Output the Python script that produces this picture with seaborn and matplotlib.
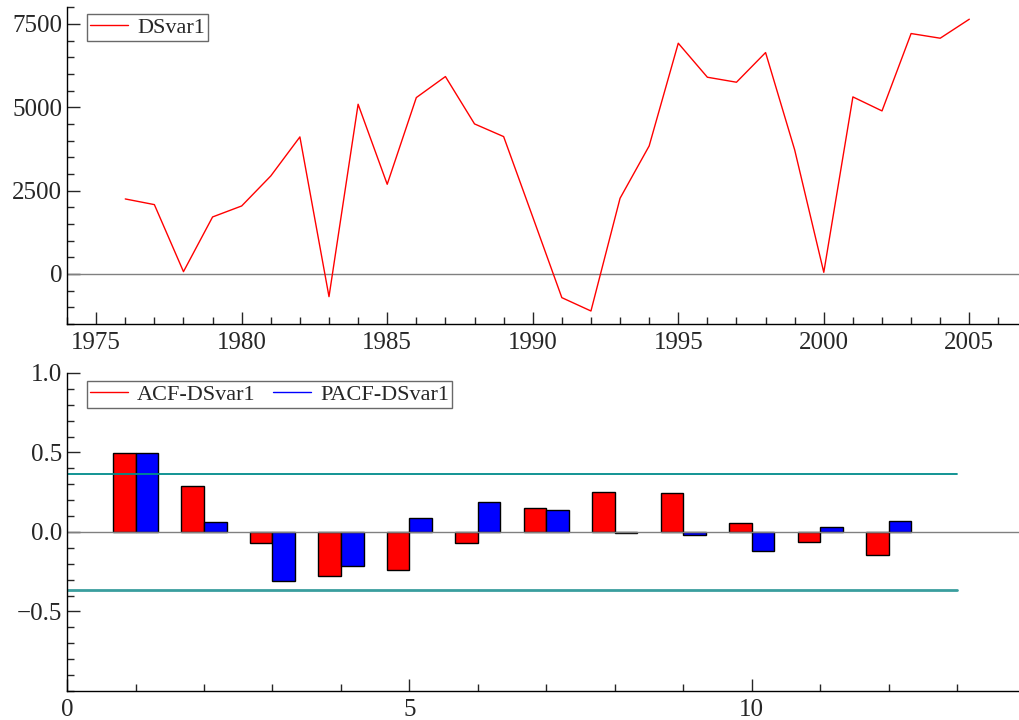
import matplotlib
matplotlib.use("Agg")
import matplotlib.pyplot as plt
from matplotlib.lines import Line2D
from matplotlib.ticker import MultipleLocator
import seaborn as sns
import pandas as pd

# series values
years = list(range(1976, 2006))
dsvar1 = [2250, 2080, 70, 1710, 2040, 2940, 4110, -680, 5090, 2690,
          5290, 5920, 4500, 4120, 1710, -710, -1110, 2270, 3840, 6920,
          5900, 5750, 6640, 3720, 50, 5310, 4890, 7210, 7070, 7640]

lags = list(range(1, 13))
acf = [0.494, 0.289, -0.070, -0.274, -0.238, -0.070, 0.148, 0.253, 0.247, 0.059, -0.063, -0.146]
pacf = [0.494, 0.061, -0.308, -0.215, 0.089, 0.186, 0.139, -0.004, -0.021, -0.118, 0.030, 0.070]
conf = 0.365

sns.set_style("ticks")
plt.rcParams['font.family'] = ['Liberation Serif', 'DejaVu Serif']

fig = plt.figure(figsize=(10.19, 7.2), dpi=100)
ax1 = fig.add_axes([0.0658, 0.55, 0.934, 0.44])
ax2 = fig.add_axes([0.0658, 0.0403, 0.934, 0.4417])

# top: time series
df1 = pd.DataFrame({'year': years, 'DSvar1': dsvar1})
ax1.axhline(0, color='gray', lw=1)
sns.lineplot(data=df1, x='year', y='DSvar1', color='red', lw=1, ax=ax1)
ax1.set_xlim(1974.0, 2006.7)
ax1.set_ylim(-1500, 8000)
ax1.xaxis.set_major_locator(MultipleLocator(5))
ax1.xaxis.set_minor_locator(MultipleLocator(1))
ax1.yaxis.set_major_locator(MultipleLocator(2500))
ax1.yaxis.set_minor_locator(MultipleLocator(500))
ax1.set_xlabel('')
ax1.set_ylabel('')
ax1.legend(handles=[Line2D([], [], color='red', lw=1)], labels=['DSvar1'],
           loc='upper left', bbox_to_anchor=(0.014, 1.0), fancybox=False,
           edgecolor='#444444', fontsize=16, handlelength=1.7, handletextpad=0.4,
           borderpad=0.15, borderaxespad=0.3)

# bottom: ACF / PACF
df2 = pd.DataFrame({'lag': lags * 2,
                    'value': acf + pacf,
                    'series': ['ACF-DSvar1'] * len(lags) + ['PACF-DSvar1'] * len(lags)})
ax2.axhline(0, color='gray', lw=1)
ax2.plot([0, 13], [conf, conf], color='#008b8b', lw=1.3)
ax2.plot([0, 13], [-conf, -conf], color='#3a9e9e', lw=2)
sns.barplot(data=df2, x='lag', y='value', hue='series', native_scale=True,
            width=0.66, dodge=True, palette=['red', 'blue'], saturation=1,
            edgecolor='black', linewidth=1, gap=0, legend=False, ax=ax2)
ax2.set_xlim(0, 13.9)
ax2.set_ylim(-1.0, 1.0)
ax2.xaxis.set_major_locator(MultipleLocator(5))
ax2.xaxis.set_minor_locator(MultipleLocator(1))
ax2.yaxis.set_major_locator(MultipleLocator(0.5))
ax2.yaxis.set_minor_locator(MultipleLocator(0.1))
ax2.set_yticks([-0.5, 0.0, 0.5, 1.0])
ax2.set_xlabel('')
ax2.set_ylabel('')
ax2.legend(handles=[Line2D([], [], color='red', lw=1), Line2D([], [], color='blue', lw=1)],
           labels=['ACF-DSvar1', 'PACF-DSvar1'], ncol=2,
           loc='upper left', bbox_to_anchor=(0.014, 0.995), fancybox=False,
           edgecolor='#444444', fontsize=16, handlelength=1.7, handletextpad=0.4,
           borderpad=0.15, borderaxespad=0.3, columnspacing=0.8)

for ax in (ax1, ax2):
    sns.despine(ax=ax)
    ax.tick_params(which='both', direction='in', labelsize=18, width=1)
    ax.tick_params(which='major', length=9)
    ax.tick_params(which='minor', length=5)
    ax.tick_params(axis='x', pad=6)
    for s in ('left', 'bottom'):
        ax.spines[s].set_linewidth(1)
        ax.spines[s].set_color('black')

fig.savefig('out.png', dpi=100)
